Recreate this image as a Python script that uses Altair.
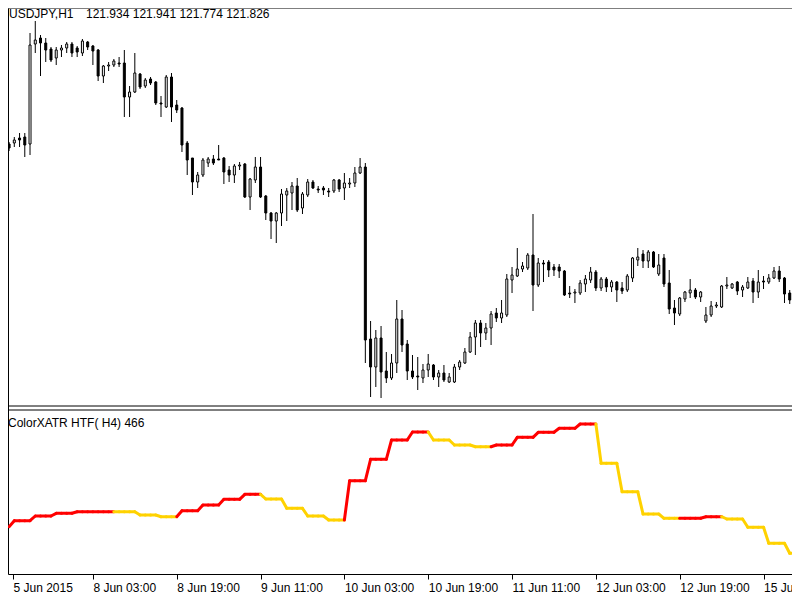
import json
import altair as alt
import pandas as pd

# ---------------- data (USDJPY H1 candles) ----------------
open_ = [124.56,124.57,124.62,124.63,124.56,125.56,125.62,125.57,125.51,125.42,
         125.50,125.52,125.56,125.52,125.47,125.58,125.54,125.50,125.24,125.34,
         125.35,125.37,125.37,125.03,125.08,125.26,125.14,125.21,125.18,124.97,
         124.93,125.23,124.95,124.92,124.57,124.42,124.18,124.25,124.37,124.41,
         124.41,124.42,124.30,124.25,124.34,124.36,124.03,124.20,124.33,124.04,
         123.87,123.79,123.87,124.05,124.07,124.14,123.92,124.05,124.18,124.11,
         124.12,124.09,124.09,124.20,124.12,124.16,124.17,124.27,124.33,122.61,
         122.33,122.62,122.29,122.22,122.37,122.81,122.56,122.29,122.24,122.22,
         122.30,122.35,122.23,122.27,122.18,122.18,122.33,122.37,122.48,122.63,
         122.77,122.67,122.72,122.87,122.82,122.85,123.20,123.24,123.31,123.32,
         123.45,123.15,123.37,123.38,123.33,123.33,123.29,123.07,123.07,123.07,
         123.16,123.20,123.28,123.12,123.21,123.13,123.18,123.12,123.10,123.22,
         123.40,123.46,123.39,123.48,123.26,123.42,123.17,122.92,122.86,123.01,
         123.07,123.10,123.03,122.79,122.85,122.94,122.93,123.14,123.12,123.18,
         123.10,123.12,123.19,123.08,123.19,123.18,123.22,123.29,123.22,123.07,
         123.00]
high = [124.58,124.63,124.67,124.67,125.67,125.79,125.65,125.62,125.53,125.53,
        125.55,125.58,125.58,125.54,125.61,125.59,125.55,125.51,125.35,125.38,
        125.41,125.43,125.50,125.14,125.47,125.27,125.22,125.23,125.19,125.04,
        125.25,125.27,125.00,124.93,124.59,124.42,124.28,124.42,124.43,124.45,
        124.55,124.43,124.34,124.36,124.38,124.37,124.22,124.43,124.43,124.05,
        123.88,123.88,124.11,124.12,124.18,124.22,124.08,124.21,124.20,124.14,
        124.14,124.12,124.21,124.21,124.27,124.22,124.33,124.42,124.37,122.79,
        122.70,122.74,122.48,122.46,123.00,122.90,122.60,122.45,122.43,122.36,
        122.46,122.36,122.30,122.35,122.27,122.36,122.40,122.52,122.68,122.80,
        122.80,122.77,122.89,122.92,123.00,123.26,123.33,123.52,123.38,123.47,
        123.86,123.42,123.40,123.40,123.36,123.36,123.30,123.14,123.11,123.20,
        123.25,123.33,123.30,123.23,123.23,123.20,123.19,123.18,123.26,123.43,
        123.52,123.50,123.50,123.49,123.46,123.46,123.30,123.00,123.03,123.09,
        123.21,123.12,123.09,122.93,122.99,122.98,123.15,123.23,123.17,123.19,
        123.15,123.23,123.22,123.30,123.24,123.26,123.33,123.34,123.23,123.10,
        123.16]
low = [124.49,124.53,124.53,124.43,124.45,125.47,125.24,125.38,125.38,125.35,
       125.43,125.47,125.43,125.43,125.44,125.50,125.35,125.19,125.17,125.29,
       125.33,125.33,124.83,124.83,125.07,125.11,125.12,125.15,124.95,124.83,
       124.92,124.78,124.87,124.48,124.25,124.05,124.12,124.23,124.33,124.35,
       124.40,124.16,124.18,124.17,124.30,124.02,123.90,124.17,124.02,123.80,
       123.61,123.57,123.74,123.79,123.90,123.88,123.86,124.03,124.11,124.07,
       124.05,124.03,124.07,124.08,124.00,124.12,124.13,124.26,122.37,122.03,
       122.13,122.02,122.17,122.20,122.27,122.48,122.20,122.21,122.10,122.17,
       122.23,122.20,122.13,122.18,122.17,122.17,122.30,122.36,122.47,122.45,
       122.53,122.60,122.55,122.78,122.77,122.83,123.07,123.23,123.28,123.30,
       122.89,123.13,123.18,123.23,123.24,123.22,123.04,123.02,122.97,123.05,
       123.08,123.17,123.09,123.09,123.08,123.08,122.98,123.06,123.08,123.18,
       123.34,123.32,123.32,123.32,123.24,123.13,122.86,122.75,122.84,122.98,
       123.02,123.01,122.98,122.77,122.83,122.92,122.92,123.11,123.11,123.05,
       123.03,123.11,122.97,123.02,123.11,123.16,123.21,123.18,122.97,122.96,
       122.98]
close = [124.52,124.60,124.60,124.55,125.55,125.60,125.57,125.50,125.40,125.50,
         125.52,125.56,125.47,125.48,125.59,125.53,125.49,125.24,125.34,125.35,
         125.39,125.36,125.03,125.08,125.27,125.13,125.20,125.17,124.97,124.96,
         125.23,124.93,124.90,124.55,124.40,124.18,124.25,124.40,124.41,124.37,
         124.40,124.28,124.25,124.34,124.35,124.03,124.21,124.33,124.03,123.87,
         123.79,123.87,124.06,124.09,124.14,123.90,124.06,124.18,124.12,124.10,
         124.10,124.08,124.20,124.11,124.17,124.17,124.27,124.33,122.60,122.33,
         122.62,122.28,122.22,122.37,122.81,122.55,122.29,122.23,122.23,122.30,
         122.36,122.23,122.27,122.20,122.23,122.33,122.38,122.48,122.63,122.77,
         122.67,122.72,122.86,122.82,122.87,123.21,123.25,123.31,123.34,123.45,
         123.15,123.37,123.36,123.30,123.30,123.29,123.05,123.06,123.08,123.17,
         123.21,123.28,123.12,123.21,123.13,123.18,123.10,123.09,123.24,123.42,
         123.43,123.39,123.48,123.33,123.35,123.16,122.91,122.87,123.02,123.08,
         123.10,123.03,123.08,122.85,122.94,122.95,123.14,123.15,123.16,123.09,
         123.13,123.18,123.08,123.18,123.18,123.22,123.29,123.21,123.06,123.00,
         123.14]

# ColorXATR HTF(H4): one value and one colour state per H4 bar
atr_h4 = [47.3, 53.3, 58.0, 60.7, 62.3, 62.3, 62.3, 59.0, 57.3, 63.3,
          69.0, 74.7, 79.7, 75.0, 65.7, 58.0, 54.0, 93.3, 114.7, 134.0,
          142.0, 134.0, 129.0, 127.3, 129.0, 136.7, 141.7, 145.7, 150.0, 110.7,
          82.3, 60.0, 55.7, 55.7, 57.3, 55.0, 46.7, 30.7, 20.7]
atr_state = ["up"] * 6 + ["down"] * 3 + ["up"] * 4 + ["down"] * 4 + ["up"] * 4 + \
            ["down"] * 3 + ["up"] * 5 + ["down"] * 4 + ["up"] * 2 + ["down"] * 4

tick_bars = [0, 16, 32, 48, 64, 80, 96, 112, 128, 144]
tick_labels = ["5 Jun 2015", "8 Jun 03:00", "8 Jun 19:00", "9 Jun 11:00",
               "10 Jun 03:00", "10 Jun 19:00", "11 Jun 11:00", "12 Jun 03:00",
               "12 Jun 19:00", "15 Jun 11:00"]

header_symbol = "USDJPY,H1"
header_prices = "121.934 121.941 121.774 121.826"
indicator_title = "ColorXATR HTF( H4) 466"

# panel frame levels on the price scale: top of chart, bottom of price panel, top of indicator panel
frame_prices = [125.92, 121.94, 121.90]

# ---------------- tables ----------------
n = len(open_)
candles = pd.DataFrame({"i": list(range(n)), "open": open_, "high": high,
                        "low": low, "close": close})


def h4_block(i):
    return 0 if i == 0 else (i + 3) // 4


seg_rows = []
for i in range(1, n):
    b0, b1 = h4_block(i - 1), h4_block(i)
    seg_rows.append({"x0": i - 1, "x1": i, "v0": atr_h4[b0], "v1": atr_h4[b1],
                     "state": atr_state[b1]})
segs = pd.DataFrame(seg_rows)

# ---------------- scales ----------------
W, H = 784, 566
BAR_PX = 5.307
X_MIN = 0.75
X_MAX = X_MIN + W / BAR_PX
FONT = "Liberation Sans"

tick_vals = [max(b, X_MIN) for b in tick_bars]
label_expr = json.dumps(tick_labels) + "[round(datum.value / 16)]"

x_axis = alt.Axis(values=tick_vals, labelExpr=label_expr, title=None, grid=False,
                  domain=True, domainColor="black", domainWidth=1,
                  ticks=True, tickSize=5, tickColor="black",
                  labelAlign="left", labelBaseline="alphabetic", labelPadding=12,
                  labelFont=FONT, labelFontSize=12, labelColor="black",
                  labelOverlap=False, labelFlush=False, labelBound=False)
x_scale = alt.Scale(domain=[X_MIN, X_MAX], nice=False, zero=False)
price_scale = alt.Scale(domain=[120.26, 125.92], nice=False, zero=False)
atr_scale = alt.Scale(domain=[0, 566], nice=False, zero=False)
left_axis = alt.Axis(labels=False, ticks=False, domain=True, domainColor="black",
                     domainWidth=1, grid=False, title=None)

base = alt.Chart(candles)

wicks = base.mark_rule(color="black", strokeWidth=1, clip=True).encode(
    x=alt.X("i:Q", scale=x_scale, axis=x_axis),
    y=alt.Y("low:Q", scale=price_scale, axis=left_axis),
    y2="high:Q",
)

bodies = base.mark_bar(size=2, stroke="black", strokeWidth=1, clip=True).encode(
    x=alt.X("i:Q", scale=x_scale, axis=x_axis),
    y=alt.Y("open:Q", scale=price_scale, axis=None),
    y2="close:Q",
    fill=alt.condition("datum.close >= datum.open", alt.value("white"), alt.value("black")),
)

indicator = alt.Chart(segs).mark_rule(strokeWidth=3, strokeCap="round", clip=True).encode(
    x=alt.X("x0:Q", scale=x_scale, axis=x_axis),
    x2="x1:Q",
    y=alt.Y("v0:Q", scale=atr_scale, axis=None),
    y2="v1:Q",
    color=alt.Color("state:N", scale=alt.Scale(domain=["up", "down"],
                                               range=["#FF0000", "#FFD200"]), legend=None),
)

frame = alt.Chart(pd.DataFrame({"p": frame_prices})).mark_rule(
    color="black", strokeWidth=1).encode(
    y=alt.Y("p:Q", scale=price_scale, axis=None)
)

txt_sym = alt.Chart(pd.DataFrame({"t": [header_symbol]})).mark_text(
    font=FONT, fontSize=12, color="black", align="left", baseline="alphabetic"
).encode(text="t:N", x=alt.value(1), y=alt.value(10))

txt_px = alt.Chart(pd.DataFrame({"t": [header_prices]})).mark_text(
    font=FONT, fontSize=12, color="black", align="left", baseline="alphabetic"
).encode(text="t:N", x=alt.value(78), y=alt.value(10))

txt_ind = alt.Chart(pd.DataFrame({"t": [indicator_title]})).mark_text(
    font=FONT, fontSize=12, color="black", align="left", baseline="alphabetic"
).encode(text="t:N", x=alt.value(0), y=alt.value(419))

chart = alt.layer(wicks, bodies, indicator, frame, txt_sym, txt_px, txt_ind).resolve_scale(
    y="independent"
).properties(
    width=W, height=H,
    autosize=alt.AutoSizeParams(type="none"),
    padding={"left": 0, "top": 0, "right": 0, "bottom": 24},
    background="white",
).configure_view(stroke=None)

chart.save("out.html", embed_options={"renderer": "svg", "actions": False})
